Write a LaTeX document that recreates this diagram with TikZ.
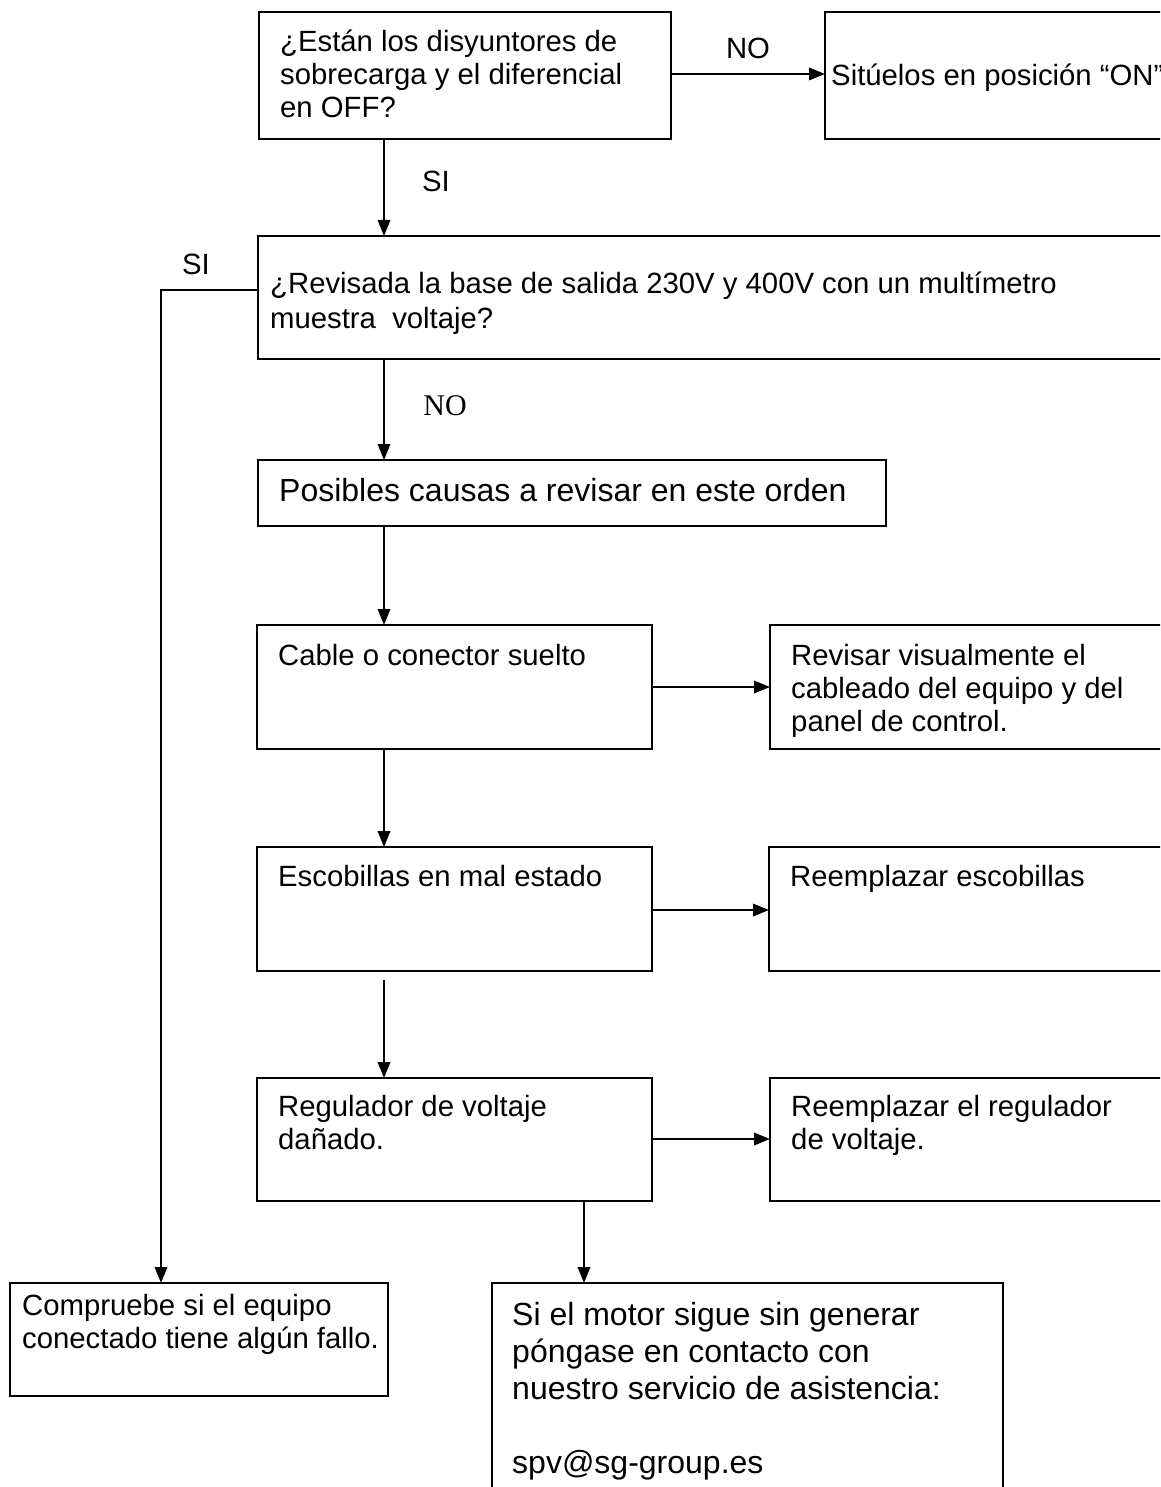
\documentclass[tikz,border=0pt]{standalone}
\usepackage{fontspec}
\setmainfont{Liberation Sans}
\newfontfamily\serifNO{Liberation Serif}
\usetikzlibrary{arrows.meta}
\begin{document}
\begin{tikzpicture}[x=1pt,y=-1pt,
  box/.style={draw, line width=1.9pt, inner sep=0pt, outer sep=0pt, anchor=north west},
  txt/.style={anchor=base west, inner sep=0pt, font=\fontsize{29.3}{33}\selectfont},
  bigtxt/.style={anchor=base west, inner sep=0pt, font=\fontsize{32}{37}\selectfont},
  lbl/.style={anchor=base, inner sep=0pt, font=\fontsize{29.3}{33}\selectfont},
  arr/.style={line width=1.9pt, -{Triangle[length=16pt,width=12.5pt]}},
  ln/.style={line width=1.9pt}]
\useasboundingbox (0,0) rectangle (1160,1487);
\clip (0,0) rectangle (1160,1487);

% boxes
\node[box, minimum width=412pt, minimum height=127pt] (b1) at (259,12) {};
\node[box, minimum width=345pt, minimum height=127pt] (b2) at (825,12) {};
\node[box, minimum width=912pt, minimum height=123pt] (b3) at (258,236) {};
\node[box, minimum width=628pt, minimum height=66pt] (b4) at (258,460) {};
\node[box, minimum width=395pt, minimum height=124pt] (b5) at (257,625) {};
\node[box, minimum width=400pt, minimum height=124pt] (b6) at (770,625) {};
\node[box, minimum width=395pt, minimum height=124pt] (b7) at (257,847) {};
\node[box, minimum width=401pt, minimum height=124pt] (b8) at (769,847) {};
\node[box, minimum width=395pt, minimum height=123pt] (b9) at (257,1078) {};
\node[box, minimum width=400pt, minimum height=123pt] (b10) at (770,1078) {};
\node[box, minimum width=378pt, minimum height=113pt] (b11) at (10,1283) {};
\node[box, minimum width=511pt, minimum height=230pt] (b12) at (492,1283) {};

% texts
\node[txt] (t1a) at (280,52) {¿Están los disyuntores de};
\node[txt] (t1b) at (280,85) {sobrecarga y el diferencial};
\node[txt] (t1c) at (280,118) {en OFF?};
\node[txt] (t2) at (831,86) {Sitúelos en posición “ON”};
\node[txt] (t3a) at (270,294) {¿Revisada la base de salida 230V y 400V con un multímetro};
\node[txt] (t3b) at (270,328) {muestra\ \ voltaje?};
\node[anchor=base west, inner sep=0pt, font=\fontsize{32}{37}\selectfont] (t4) at (279,501) {Posibles causas a revisar en este orden};
\node[txt] (t5) at (278,665) {Cable o conector suelto};
\node[txt] (t6a) at (791,665) {Revisar visualmente el};
\node[txt] (t6b) at (791,698) {cableado del equipo y del};
\node[txt] (t6c) at (791,731) {panel de control.};
\node[txt] (t7) at (278,886) {Escobillas en mal estado};
\node[txt] (t8) at (790,886) {Reemplazar escobillas};
\node[txt] (t9a) at (278,1116) {Regulador de voltaje};
\node[txt] (t9b) at (278,1149) {dañado.};
\node[txt] (t10a) at (791,1116) {Reemplazar el regulador};
\node[txt] (t10b) at (791,1149) {de voltaje.};
\node[txt] (t11a) at (22,1315) {Compruebe si el equipo};
\node[txt] (t11b) at (22,1348) {conectado tiene algún fallo.};
\node[bigtxt] (t12a) at (512,1325) {Si el motor sigue sin generar};
\node[bigtxt] (t12b) at (512,1362) {póngase en contacto con};
\node[bigtxt] (t12c) at (512,1399) {nuestro servicio de asistencia:};
\node[bigtxt] (t12d) at (512,1473) {spv@sg-group.es};

% labels
\node[lbl] (lno1) at (748,59) {NO};
\node[lbl] (lsi1) at (436,192) {SI};
\node[lbl] (lsi2) at (196,275) {SI};
\node[anchor=base, inner sep=0pt, font=\serifNO\fontsize{30}{34}\selectfont] (lno2) at (445,415) {NO};

% helper coordinates
\coordinate (cx) at (384,0);
\coordinate (cx2) at (584,0);
\coordinate (cl) at (161,0);
\coordinate (r1) at (0,74);
\coordinate (r3) at (0,290);
\coordinate (r5) at (0,687);
\coordinate (r7) at (0,910);
\coordinate (r9) at (0,1139);
\coordinate (g7) at (384,980);

% connectors
\draw[arr] (b1.east |- r1) -- (b2.west |- r1);
\draw[arr] (b1.south -| cx) -- (b3.north -| cx);
\draw[arr] (b3.west |- r3) -| (b11.north -| cl);
\draw[arr] (b3.south -| cx) -- (b4.north -| cx);
\draw[arr] (b4.south -| cx) -- (b5.north -| cx);
\draw[arr] (b5.east |- r5) -- (b6.west |- r5);
\draw[arr] (b5.south -| cx) -- (b7.north -| cx);
\draw[arr] (b7.east |- r7) -- (b8.west |- r7);
\draw[arr] (g7) -- (b9.north -| cx);
\draw[arr] (b9.east |- r9) -- (b10.west |- r9);
\draw[arr] (b9.south -| cx2) -- (b12.north -| cx2);
\end{tikzpicture}
\end{document}
